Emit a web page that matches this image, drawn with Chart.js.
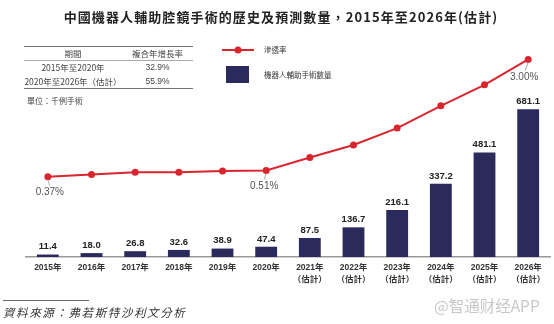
<!DOCTYPE html>
<html><head><meta charset="utf-8">
<script src="https://cdn.jsdelivr.net/npm/chart.js@4/dist/chart.umd.min.js"></script>
<style>
html,body{margin:0;padding:0;background:#fff;}
#wrap{position:relative;width:554px;height:324px;overflow:hidden;font-family:"Noto Sans CJK TC","Liberation Sans",sans-serif;}
#c{position:absolute;left:0;top:0;}
.abs{position:absolute;white-space:nowrap;}
#title{left:4px;width:554px;top:8px;text-align:center;font-size:13px;font-weight:bold;color:#222;letter-spacing:1.1px;line-height:18px;}
#tbl{left:24px;top:46px;width:169px;font-size:8.5px;color:#444;}
#tbl .row{display:flex;height:13.5px;line-height:13.5px;}
#tbl .c1{width:98px;text-align:center;}
#tbl .c2{width:71px;text-align:center;font-family:"Liberation Sans","Noto Sans CJK TC",sans-serif;}
#unit{left:27px;top:94px;font-size:8px;color:#444;line-height:14px;}
#srcline{left:3px;top:300px;width:86px;height:1px;background:#666;}
#src{left:3px;top:303px;font-size:11.5px;font-style:italic;color:#333;letter-spacing:1.6px;line-height:18px;}
#wm{left:434px;top:295px;font-size:15.5px;color:#c8c8c8;font-family:"Noto Sans CJK SC",sans-serif;line-height:20px;letter-spacing:0px;}
</style></head>
<body><div id="wrap">
<canvas id="c" width="554" height="324"></canvas>
<div id="title" class="abs">中國機器人輔助腔鏡手術的歷史及預測數量，2015年至2026年(估計)</div>
<div id="tbl" class="abs">
  <div style="border-top:1.5px solid #777;"></div>
  <div class="row" style="border-bottom:1px solid #aaa;height:13px;line-height:13px;"><div class="c1">期間</div><div class="c2" style="font-family:'Noto Sans CJK TC',sans-serif;">複合年增長率</div></div>
  <div class="row"><div class="c1">2015年至2020年</div><div class="c2">32.9%</div></div>
  <div class="row" style="border-bottom:1.5px solid #777;"><div class="c1">2020年至2026年（估計）</div><div class="c2">55.9%</div></div>
</div>
<div id="unit" class="abs">單位：千例手術</div>
<div id="srcline" class="abs"></div>
<div id="src" class="abs">資料來源：弗若斯特沙利文分析</div>
<div id="wm" class="abs">@智通财经APP</div>
</div>
<script>
const categories = ['2015年','2016年','2017年','2018年','2019年','2020年','2021年','2022年','2023年','2024年','2025年','2026年'];
const isEstimate = [false,false,false,false,false,false,true,true,true,true,true,true];
const estimateNote = '（估計）';
const surgeries = [11.4,18.0,26.8,32.6,38.9,47.4,87.5,136.7,216.1,337.2,481.1,681.1];
const penetration = [0.37,0.42,0.47,0.47,0.50,0.51,0.80,1.08,1.46,1.96,2.43,3.00];
const penetrationLabelIdx = [0,5,11];
const seriesNames = ['滲透率','機器人輔助手術數量'];

const RED = '#d9262e';
const NAVY = '#2b2a5c';

const tickLabels = categories.map((c,i)=> isEstimate[i] ? [c, estimateNote] : c);

const labelPlugin = {
  id:'labels',
  afterDatasetsDraw(chart){
    const ctx = chart.ctx;
    ctx.save();
    const barMeta = chart.getDatasetMeta(1);
    ctx.font = 'bold 9.5px "Liberation Sans", Arial, sans-serif';
    ctx.fillStyle = '#222';
    ctx.textAlign = 'center';
    ctx.textBaseline = 'bottom';
    barMeta.data.forEach((el,i)=>{
      ctx.fillText(surgeries[i].toFixed(1), el.x, el.y - 3);
    });
    const lineMeta = chart.getDatasetMeta(0);
    ctx.font = '10px "Liberation Sans", Arial, sans-serif';
    ctx.fillStyle = '#555';
    ctx.strokeStyle = '#aaa';
    ctx.lineWidth = 1;
    penetrationLabelIdx.forEach(i=>{
      const el = lineMeta.data[i];
      const txt = penetration[i].toFixed(2)+'%';
      const last = i === categories.length-1;
      let lx, ly;
      if (last){ lx = el.x - 4; ly = el.y + 18; }
      else { lx = el.x + (i===0?2:-2); ly = el.y + 16; }
      ctx.beginPath();
      ctx.moveTo(el.x, el.y + 3);
      ctx.lineTo(lx + (last?1:0), ly - 7);
      ctx.stroke();
      ctx.textBaseline = 'middle';
      ctx.fillText(txt, lx, ly);
    });
    ctx.restore();
  }
};

const legendPlugin = {
  id:'customLegend',
  afterDraw(chart){
    const ctx = chart.ctx;
    ctx.save();
    ctx.strokeStyle = RED; ctx.lineWidth = 2;
    ctx.beginPath(); ctx.moveTo(222,50); ctx.lineTo(254,50); ctx.stroke();
    ctx.fillStyle = RED;
    ctx.beginPath(); ctx.arc(238,50,3.5,0,Math.PI*2); ctx.fill();
    ctx.fillStyle = NAVY;
    ctx.fillRect(226,66,23,17);
    ctx.fillStyle = '#333';
    ctx.font = '7.5px "Noto Sans CJK TC", sans-serif';
    ctx.textAlign = 'left'; ctx.textBaseline = 'middle';
    ctx.fillText(chart.data.datasets[0].label, 264, 50);
    ctx.fillText(chart.data.datasets[1].label, 264, 75);
    ctx.restore();
  }
};

new Chart(document.getElementById('c'), {
  data:{
    labels: tickLabels,
    datasets:[
      {type:'line', label: seriesNames[0], data: penetration, yAxisID:'y1',
       borderColor: RED, backgroundColor: RED, borderWidth: 2,
       pointRadius: 3.5, pointBackgroundColor: RED, pointBorderWidth: 0,
       tension: 0, order: 0},
      {type:'bar', label: seriesNames[1], data: surgeries, yAxisID:'y',
       backgroundColor: NAVY, barPercentage: 0.5, categoryPercentage: 1.0, order: 1}
    ]
  },
  options:{
    responsive:false, animation:false,
    layout:{padding:{left:26,right:1,top:40,bottom:33}},
    plugins:{legend:{display:false}, tooltip:{enabled:false}, title:{display:false}},
    scales:{
      x:{
        offset:true,
        grid:{display:false, drawTicks:false},
        border:{display:true, color:'#999', width:1.5},
        ticks:{color:'#333', padding:4, maxRotation:0, autoSkip:false,
               font:{family:'"Liberation Sans", "Noto Sans CJK TC", sans-serif', size:8.5, weight:'bold', lineHeight:1.45}},
        afterFit(scale){ scale.height = 34; }
      },
      y:{display:false, min:0, max:1000},
      y1:{display:false, min:-1.43, max:3.435}
    }
  },
  plugins:[labelPlugin, legendPlugin]
});
</script>
</body></html>
